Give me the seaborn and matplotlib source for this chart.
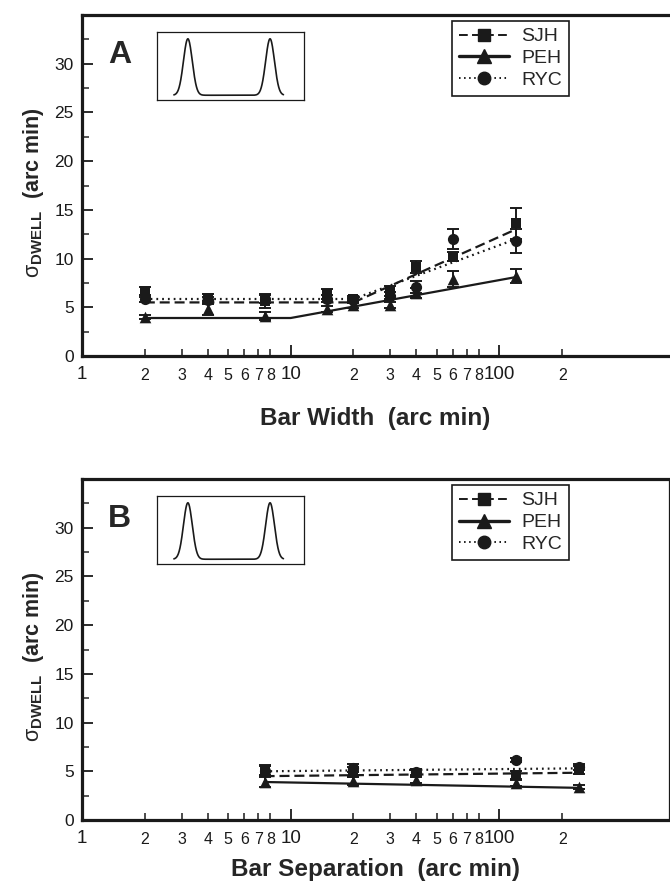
import numpy as np
import pandas as pd
import matplotlib
matplotlib.use("Agg")
import matplotlib.pyplot as plt
import seaborn as sns
from matplotlib.lines import Line2D
from matplotlib.ticker import FixedLocator, FixedFormatter

# ---------------- data ----------------
subjects = ["SJH", "PEH", "RYC"]

# Panel A: bar width
width_x = [2, 4, 7.5, 15, 20, 30, 40, 60, 120]
sjh_width = [6.7, 6.0, 5.6, 6.4, 5.9, 6.7, 9.1, 10.2, 13.6]
sjh_width_err = [0.4, 0.4, 0.7, 0.5, 0.3, 0.5, 0.6, 0.5, 1.6]
peh_width = [4.0, 4.8, 4.1, 4.8, 5.2, 5.2, 6.5, 7.9, 8.2]
peh_width_err = [0.2, 0.6, 0.4, 0.3, 0.3, 0.3, 0.5, 0.8, 0.7]
ryc_width = [5.8, 5.7, 5.9, 5.9, 5.7, 6.2, 7.1, 12.0, 11.8]
ryc_width_err = [0.3, 0.4, 0.5, 0.4, 0.3, 0.4, 0.6, 1.0, 1.2]

# Panel A fitted (bilinear) curves
fit_width_x_sjh = [2, 20, 120]
fit_width_sjh = [5.5, 5.5, 13.0]
fit_width_x_peh = [2, 10, 120]
fit_width_peh = [3.9, 3.9, 8.1]
fit_width_x_ryc = [2, 20, 120]
fit_width_ryc = [5.85, 5.85, 12.0]

# Panel B: bar separation
sep_x = [7.5, 20, 40, 120, 240]
sjh_sep = [5.1, 4.9, 4.8, 4.6, 5.1]
sjh_sep_err = [0.5, 0.5, 0.3, 0.4, 0.4]
peh_sep = [3.9, 4.0, 4.1, 3.8, 3.4]
peh_sep_err = [0.5, 0.4, 0.3, 0.3, 0.2]
ryc_sep = [5.0, 5.3, 4.9, 6.2, 5.4]
ryc_sep_err = [0.5, 0.4, 0.3, 0.2, 0.3]

# Panel B fitted lines
fit_sep_x = [7.5, 240]
fit_sep_sjh = [4.5, 4.85]
fit_sep_peh = [3.9, 3.3]
fit_sep_ryc = [5.0, 5.3]

# axis ticks
x_major = [1, 10, 100]
x_major_labels = ["1", "10", "100"]
x_minor = [2, 3, 4, 5, 6, 7, 8, 20, 30, 40, 50, 60, 70, 80, 200]
x_minor_labels = ["2", "3", "4", "5", "6", "7", "8",
                  "2", "3", "4", "5", "6", "7", "8", "2"]
y_major = [0, 5, 10, 15, 20, 25, 30]
y_minor = [2.5, 7.5, 12.5, 17.5, 22.5, 27.5, 32.5]

# ---------------- style ----------------
sns.set_theme(style="ticks")
plt.rcParams["font.family"] = ["Liberation Sans", "DejaVu Sans"]
plt.rcParams["mathtext.fontset"] = "custom"
plt.rcParams["mathtext.rm"] = "Liberation Sans"
plt.rcParams["mathtext.it"] = "Liberation Sans"
plt.rcParams["mathtext.bf"] = "Liberation Sans:bold"

DASHED = (0, (4.5, 2.2))
DOTTED = (0, (0.8, 1.8))

W, H = 670, 893
fig = plt.figure(figsize=(W / 100, H / 100), dpi=100)
fig.patch.set_facecolor("white")


def fax(l, t, r, b):
    return [l / W, 1 - b / H, (r - l) / W, (b - t) / H]


axA = fig.add_axes(fax(82, 15, 669, 356))
axB = fig.add_axes(fax(82, 479, 669, 820))


def style_axes(ax, xlabel, xlabel_y, right_spine):
    ax.set_facecolor("white")
    ax.set_xscale("log")
    ax.set_xlim(1, 650)
    ax.set_ylim(0, 35)
    ax.xaxis.set_major_locator(FixedLocator(x_major))
    ax.xaxis.set_major_formatter(FixedFormatter(x_major_labels))
    ax.xaxis.set_minor_locator(FixedLocator(x_minor))
    ax.xaxis.set_minor_formatter(FixedFormatter(x_minor_labels))
    ax.yaxis.set_major_locator(FixedLocator(y_major))
    ax.yaxis.set_major_formatter(FixedFormatter([str(v) for v in y_major]))
    ax.yaxis.set_minor_locator(FixedLocator(y_minor))
    ax.tick_params(axis="x", which="major", direction="in", length=8, width=1.3,
                   labelsize=13.5, pad=7, colors="k")
    ax.tick_params(axis="x", which="minor", direction="in", length=5, width=1.1,
                   labelsize=11.5, pad=8.5, colors="k")
    ax.tick_params(axis="y", which="major", direction="in", length=8, width=1.3,
                   labelsize=12.5, pad=6, colors="k")
    ax.tick_params(axis="y", which="minor", direction="in", length=5, width=1.1)
    for s in ["left", "bottom", "top"]:
        ax.spines[s].set_linewidth(2.3)
        ax.spines[s].set_color("k")
    ax.spines["right"].set_linewidth(0.9)
    ax.spines["right"].set_color("k")
    ax.spines["right"].set_visible(right_spine)
    ax.set_xlabel(xlabel, fontsize=17.5, fontweight="bold", va="center")
    ax.xaxis.set_label_coords(0.5, xlabel_y)
    ax.set_ylabel(r"$\sigma_{\mathbf{DWELL}}$  (arc min)", fontsize=15.5,
                  fontweight="bold", va="center")
    ax.yaxis.set_label_coords(-0.083, 0.48)


def draw_fit(ax, x, y, ls, lw):
    df = pd.DataFrame({"x": x, "y": y})
    sns.lineplot(data=df, x="x", y="y", ax=ax, color="k", lw=lw, sort=False,
                 estimator=None)
    ax.lines[-1].set_linestyle(ls)


def draw_points(ax, x, y, err, marker, size):
    ax.errorbar(x, y, yerr=err, fmt="none", ecolor="k", elinewidth=1.4,
                capsize=4, capthick=1.4, zorder=3)
    df = pd.DataFrame({"x": x, "y": y})
    sns.scatterplot(data=df, x="x", y="y", ax=ax, marker=marker, color="k",
                    s=size, edgecolor="k", linewidth=0, zorder=4)


def draw_inset(rect):
    ai = fig.add_axes(rect)
    centers = [0.21, 0.769]
    sigma = 0.03
    base, peak = 0.07, 0.9
    xs = np.linspace(0.115, 0.86, 400)
    prof = base + (peak - base) * sum(np.exp(-0.5 * ((xs - c) / sigma) ** 2) for c in centers)
    sns.lineplot(x=xs, y=prof, ax=ai, color="k", lw=1.2, sort=False, estimator=None)
    ai.set_xlim(0, 1)
    ai.set_ylim(0, 1)
    ai.set_xticks([])
    ai.set_yticks([])
    ai.set_xlabel("")
    ai.set_ylabel("")
    ai.set_facecolor("white")
    for s in ai.spines.values():
        s.set_linewidth(0.9)
        s.set_color("k")
        s.set_visible(True)


def add_legend(ax):
    handles = [
        Line2D([], [], color="k", ls=DASHED, lw=1.4, marker="s", ms=9),
        Line2D([], [], color="k", ls="-", lw=2.4, marker="^", ms=10),
        Line2D([], [], color="k", ls=DOTTED, lw=1.4, marker="o", ms=9),
    ]
    leg = ax.legend(handles, subjects, loc="upper left",
                    bbox_to_anchor=((452 - 82) / 587, (356 - 21) / 341),
                    bbox_transform=ax.transAxes, frameon=True, fancybox=False,
                    edgecolor="k", framealpha=1, fontsize=14, handlelength=2.6,
                    handletextpad=0.6, labelspacing=0.22, borderpad=0.35,
                    borderaxespad=0)
    leg.get_frame().set_linewidth(1.2)


# ---------------- Panel A ----------------
draw_fit(axA, fit_width_x_peh, fit_width_peh, "-", 1.6)
draw_fit(axA, fit_width_x_sjh, fit_width_sjh, DASHED, 1.6)
draw_fit(axA, fit_width_x_ryc, fit_width_ryc, DOTTED, 1.6)
draw_points(axA, width_x, sjh_width, sjh_width_err, "s", 60)
draw_points(axA, width_x, peh_width, peh_width_err, "^", 70)
draw_points(axA, width_x, ryc_width, ryc_width_err, "o", 65)
style_axes(axA, "Bar Width  (arc min)", -0.182, False)
add_legend(axA)
axA.text((108 - 82) / 587, (356 - 55) / 341, "A", transform=axA.transAxes,
         fontsize=23, fontweight="bold", ha="left", va="center")

# ---------------- Panel B ----------------
draw_fit(axB, fit_sep_x, fit_sep_peh, "-", 1.6)
draw_fit(axB, fit_sep_x, fit_sep_sjh, DASHED, 1.6)
draw_fit(axB, fit_sep_x, fit_sep_ryc, DOTTED, 1.6)
draw_points(axB, sep_x, sjh_sep, sjh_sep_err, "s", 60)
draw_points(axB, sep_x, peh_sep, peh_sep_err, "^", 70)
draw_points(axB, sep_x, ryc_sep, ryc_sep_err, "o", 65)
style_axes(axB, "Bar Separation  (arc min)", -0.145, True)
add_legend(axB)
axB.text((108 - 82) / 587, (356 - 55) / 341, "B", transform=axB.transAxes,
         fontsize=23, fontweight="bold", ha="left", va="center")

# insets (stimulus profile schematic)
draw_inset(fax(157, 32, 304, 100))
draw_inset(fax(157, 496, 304, 564))

fig.savefig("out.png", dpi=100, facecolor="white")
